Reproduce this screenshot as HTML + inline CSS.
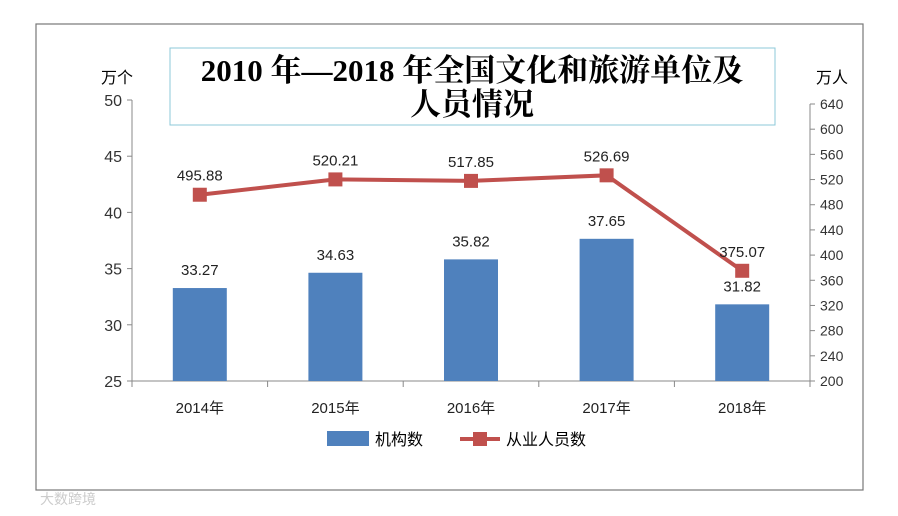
<!DOCTYPE html>
<html><head><meta charset="utf-8"><style>
body{margin:0;background:#fff;}
svg{display:block;font-family:"Liberation Sans","Noto Sans CJK SC",sans-serif;}
</style></head><body>
<svg id="c" width="898" height="516" viewBox="0 0 898 516">
<rect x="36" y="24" width="827" height="466" fill="#fff" stroke="#777" stroke-width="1.2"/>
<rect x="170" y="48" width="605" height="77" fill="#fff" stroke="#8cc8d8" stroke-width="1"/>
<text x="472" y="81" text-anchor="middle" font-family="'Liberation Serif','Noto Serif CJK SC',serif" font-weight="bold" font-size="31">2010 年—2018 年全国文化和旅游单位及</text>
<text x="472" y="115" text-anchor="middle" font-family="'Liberation Serif','Noto Serif CJK SC',serif" font-weight="bold" font-size="31">人员情况</text>
<text x="117" y="83" text-anchor="middle" font-size="16">万个</text>
<text x="832" y="83" text-anchor="middle" font-size="16">万人</text>
<g id="g"></g>
<g>
<rect x="327" y="431" width="42" height="15" fill="#4f81bd"/>
<text x="375" y="445" font-size="16">机构数</text>
<line x1="460" y1="439" x2="500" y2="439" stroke="#c0504d" stroke-width="4"/>
<rect x="473" y="432" width="14" height="14" fill="#c0504d"/>
<text x="506" y="445" font-size="16">从业人员数</text>
</g>
<text x="40" y="504" font-size="14" fill="#ccc">大数跨境</text>
</svg>
<script>
const categories=["2014年","2015年","2016年","2017年","2018年"];
const institutions=[33.27,34.63,35.82,37.65,31.82];
const employees=[495.88,520.21,517.85,526.69,375.07];
const leftTicks=[25,30,35,40,45,50];
const rightTicks=[200,240,280,320,360,400,440,480,520,560,600,640];
const NS="http://www.w3.org/2000/svg";
const g=document.getElementById('g');
const x0=132,x1=810,yb=381;
const yL=v=>yb-(v-25)/25*281;
const yR=v=>yb-(v-200)/440*277;
const band=(x1-x0)/categories.length;
const xc=i=>x0+band*(i+0.5);
function el(t,a,txt){const e=document.createElementNS(NS,t);for(const k in a)e.setAttribute(k,a[k]);if(txt!=null)e.textContent=txt;g.appendChild(e);return e;}
let e;
e=el('line',{x1:x0,y1:yL(50),x2:x0,y2:yb,stroke:'#888'});


e=el('line',{x1:x1,y1:yR(640),x2:x1,y2:yb+6,stroke:'#888'});


e=el('line',{x1:x0,y1:yb,x2:x1,y2:yb,stroke:'#888'});


leftTicks.forEach(v=>{
 el('line',{x1:x0-5,y1:yL(v),x2:x0,y2:yL(v),stroke:'#888'});
 e=el('text',{x:x0-10,y:yL(v)+6,'text-anchor':'end','font-size':16,fill:'#333'},v);
 
 
});
rightTicks.forEach(v=>{
 el('line',{x1:x1,y1:yR(v),x2:x1+5,y2:yR(v),stroke:'#888'});
 e=el('text',{x:x1+10,y:yR(v)+5,'font-size':14,fill:'#333'},v);
 
 
});
for(let i=0;i<=categories.length;i++)el('line',{x1:x0+band*i,y1:yb,x2:x0+band*i,y2:yb+6,stroke:'#888'});
categories.forEach((c,i)=>{
 e=el('text',{x:xc(i),y:yb+32,'text-anchor':'middle','font-size':15,fill:'#222'},c);
 
 
 e=el('rect',{x:xc(i)-27,y:yL(institutions[i]),width:54,height:yb-yL(institutions[i]),fill:'#4f81bd'});
 
 
 e=el('text',{x:xc(i),y:yL(institutions[i])-13,'text-anchor':'middle','font-size':15,fill:'#222'},institutions[i].toFixed(2));
 
 
});
e=el('polyline',{points:employees.map((v,i)=>xc(i)+','+yR(v)).join(' '),fill:'none',stroke:'#c0504d','stroke-width':4});


employees.forEach((v,i)=>{
 e=el('rect',{x:xc(i)-7,y:yR(v)-7,width:14,height:14,fill:'#c0504d'});
 
 
 e=el('text',{x:xc(i),y:yR(v)-14,'text-anchor':'middle','font-size':15,fill:'#222'},v.toFixed(2));
 
 
});
</script>
</body></html>
